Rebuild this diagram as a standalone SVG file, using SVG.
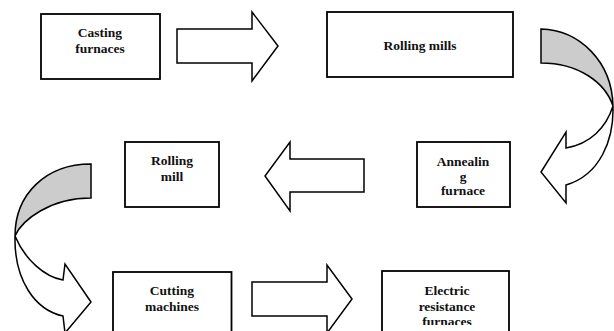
<svg xmlns="http://www.w3.org/2000/svg" width="614" height="331" viewBox="0 0 614 331">
<style>
.box{fill:#fff;stroke:#000;stroke-width:1.8}
.lbl{font-family:"Liberation Serif","Times New Roman",serif;font-weight:bold;font-size:13.5px;fill:#111;text-anchor:middle}
.arr{fill:#fff;stroke:#000;stroke-width:1.5;stroke-linejoin:miter}
.back{fill:#cccccc;stroke:#000;stroke-width:1.5}
</style>
<defs>
<clipPath id="clipE"><rect x="382" y="271" width="127" height="54"/></clipPath>
</defs>
<rect width="614" height="331" fill="#fff"/>
<g id="connectors">
<polygon class="arr" points="177,29 252,29 252,12 278,46 252,81 252,63 177,63"/>
<polygon class="arr" points="364,159 290,159 290,142 265,176 290,211 290,192 364,192"/>
<polygon class="arr" points="252,282 327,282 327,265 352,299 327,333 327,316 252,316"/>
<g id="curve1">
<path class="back" d="M541,29 C580,30 612,62 613,106 C605,82 578,63 541,63 Z"/>
<path class="arr" d="M613,106 C614,140 600,175 566,185 L566,203 L541,172 L566,132 L566,148 C590,144 606,128 613,106 Z"/>
</g>
<g id="curve2">
<path class="back" d="M91,164 C45,164 15,195 15,236 C22,220 50,198 91,198 Z"/>
<path class="arr" d="M15,236 C14,280 35,310 63,316 L65,333 L91,302 L65,264 L63,280 C45,277 25,260 15,236 Z"/>
</g>
</g>
<g id="casting">
<rect class="box" x="41" y="14" width="119" height="65"/>
<text class="lbl" x="100" y="37">Casting</text>
<text class="lbl" x="100" y="53">furnaces</text>
</g>
<g id="rolling-mills">
<rect class="box" x="327" y="12" width="186" height="65"/>
<text class="lbl" x="420" y="50">Rolling mills</text>
</g>
<g id="annealing">
<rect class="box" x="417" y="142" width="93" height="65"/>
<text class="lbl" x="463" y="166">Annealin</text>
<text class="lbl" x="463" y="180.5">g</text>
<text class="lbl" x="463" y="195">furnace</text>
</g>
<g id="rolling-mill">
<rect class="box" x="125" y="142" width="94" height="65"/>
<text class="lbl" x="172" y="165">Rolling</text>
<text class="lbl" x="172" y="181">mill</text>
</g>
<g id="cutting">
<rect class="box" x="113" y="272" width="118.5" height="70"/>
<text class="lbl" x="172" y="295">Cutting</text>
<text class="lbl" x="172" y="311">machines</text>
</g>
<g id="electric">
<rect class="box" x="382" y="271" width="127" height="70"/>
<g clip-path="url(#clipE)">
<text class="lbl" x="447" y="295">Electric</text>
<text class="lbl" x="447" y="310.5">resistance</text>
<text class="lbl" x="447" y="326">furnaces</text>
</g>
</g>
</svg>
